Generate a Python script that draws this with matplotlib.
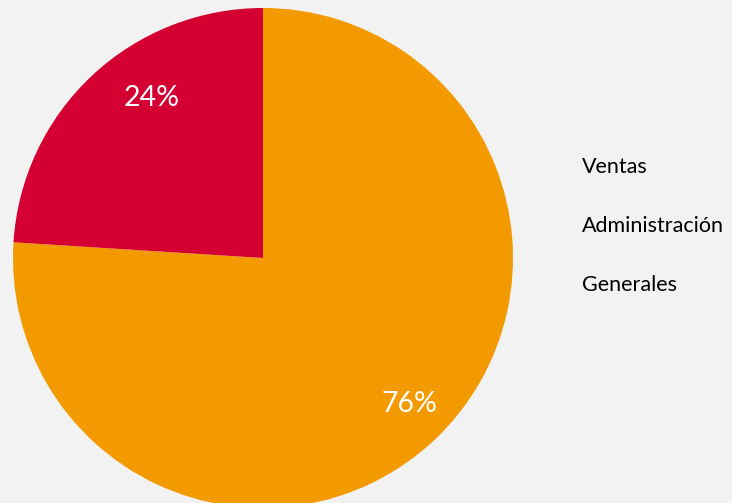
import matplotlib
matplotlib.use("Agg")
import matplotlib.pyplot as plt
from matplotlib.lines import Line2D

categories = ["Ventas", "Administración", "Generales"]
values = [76, 24, 0]
colors = ["#f39a00", "#d50032", "#7f7f7f"]

plt.rcParams["font.family"] = ["Lato", "DejaVu Sans"]

fig = plt.figure(figsize=(7.32, 5.03), dpi=100, facecolor="#f2f2f2")
W, H = 732, 503
cx, cy, r = 263, 503 - 258, 250
ax = fig.add_axes([(cx - r) / W, (cy - r) / H, 2 * r / W, 2 * r / H])
ax.set_facecolor("#f2f2f2")

shown = [(c, v, col) for c, v, col in zip(categories, values, colors) if v > 0]
wedges, texts, autotexts = ax.pie(
    [v for _, v, _ in shown],
    colors=[col for _, _, col in shown],
    startangle=90,
    counterclock=False,
    autopct="%1.0f%%",
    pctdistance=0.8,
    radius=1.0,
    wedgeprops=dict(linewidth=0),
    textprops=dict(color="white", fontsize=20.5),
)
for w in wedges:
    w.set_clip_on(False)

# label placement inside each slice
label_pos = [(0.585, -0.585), (-0.445, 0.64)]
for t, p in zip(autotexts, label_pos):
    t.set_position(p)

ax.set_xlim(-1, 1)
ax.set_ylim(-1, 1)
ax.set_aspect("equal")

handles = [Line2D([], [], linestyle="none") for _ in categories]
leg = fig.legend(
    handles, categories,
    loc="center left",
    bbox_to_anchor=(582 / W, (503 - 226) / H),
    frameon=False,
    handlelength=0,
    handletextpad=0,
    borderpad=0,
    borderaxespad=0,
    labelspacing=1.8,
    fontsize=15.5,
    labelcolor="#000000",
)

fig.savefig("out.png", dpi=100, facecolor=fig.get_facecolor())
